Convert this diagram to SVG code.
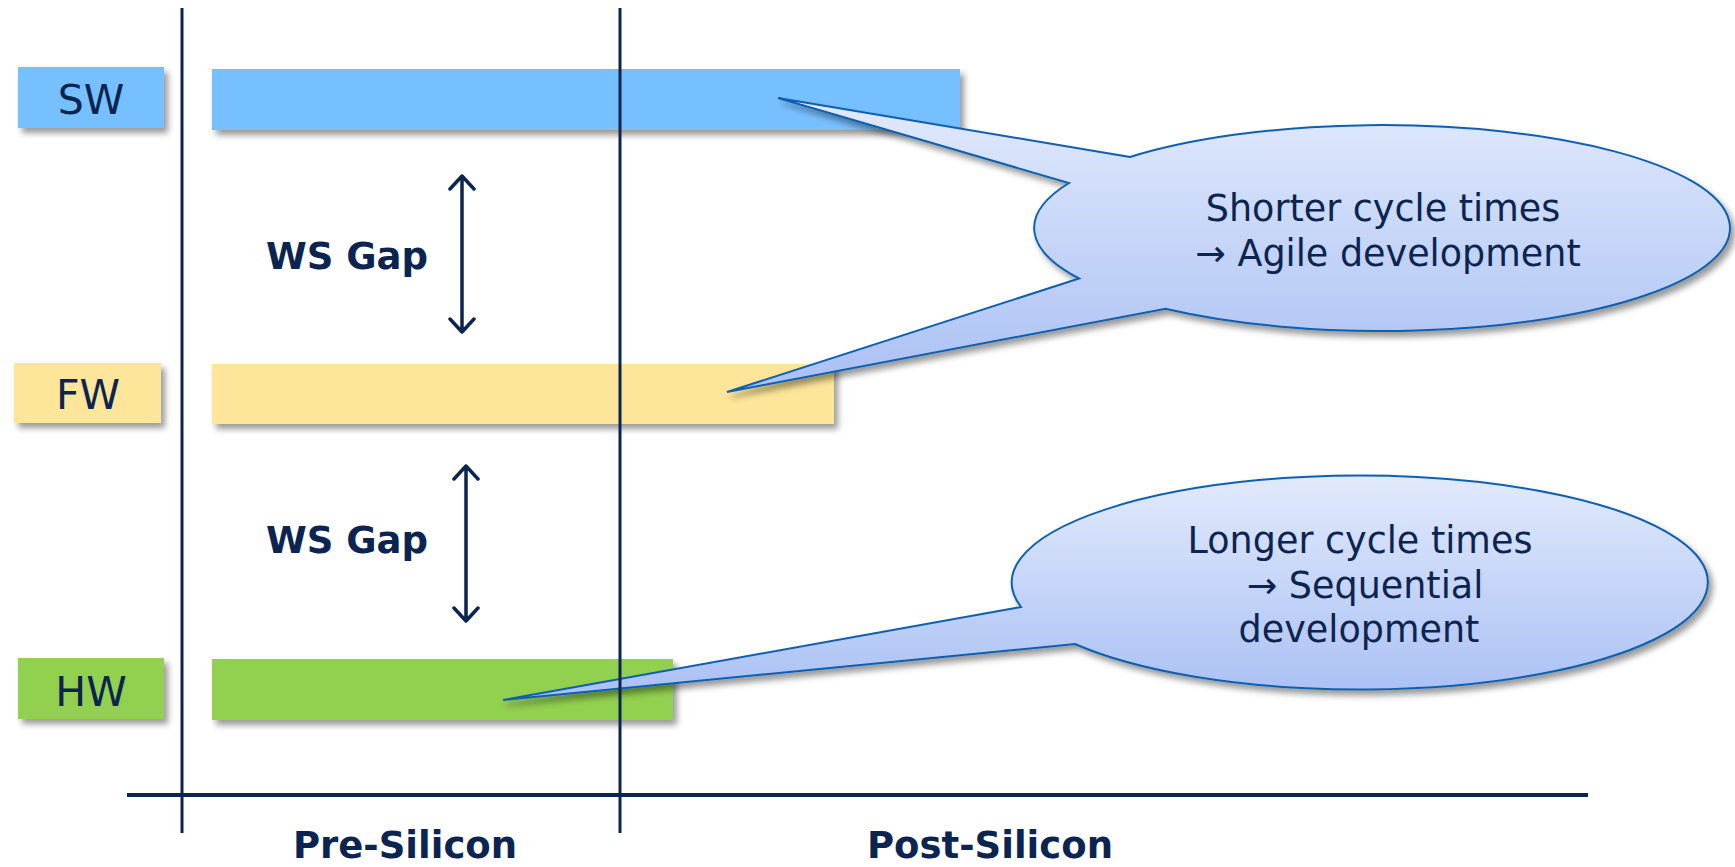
<svg xmlns="http://www.w3.org/2000/svg" width="1735" height="867" viewBox="0 0 1735 867">
<style>
.lbl{font-family:"DejaVu Sans","Verdana",sans-serif;font-size:41px;fill:#0B2450;text-anchor:middle}
.bold{font-family:"DejaVu Sans","Verdana",sans-serif;font-weight:bold;font-size:37px;fill:#0B2450;text-anchor:middle}
.ct{font-family:"DejaVu Sans","Verdana",sans-serif;font-size:36.5px;fill:#0B2450;text-anchor:middle}
.axis{stroke:#0B2450;fill:none}
.arr{stroke:#0B2450;stroke-width:3.5;fill:none;stroke-linecap:round;stroke-linejoin:round}
.callout{fill:url(#cg);stroke:#1060B0;stroke-width:2;filter:url(#sh)}
</style>
<defs>
<filter id="sh" x="-10%" y="-10%" width="130%" height="140%">
<feDropShadow dx="4" dy="5" stdDeviation="3" flood-color="#000" flood-opacity="0.4"/>
</filter>
<linearGradient id="cg" x1="0" y1="0" x2="0" y2="1">
<stop offset="0" stop-color="#E2EAFC"/>
<stop offset="1" stop-color="#A9C0F4"/>
</linearGradient>
</defs>
<g id="sw-label"><rect x="18" y="67" width="146" height="61" fill="#77C0FF" filter="url(#sh)"/><text class="lbl" x="91" y="114">SW</text></g>
<g id="sw-bar"><rect x="212" y="69" width="748" height="61" fill="#77C0FF" filter="url(#sh)"/></g>
<g id="fw-label"><rect x="14" y="363" width="147" height="60" fill="#FDE699" filter="url(#sh)"/><text class="lbl" x="88" y="409">FW</text></g>
<g id="fw-bar"><rect x="212" y="364" width="622" height="60" fill="#FDE699" filter="url(#sh)"/></g>
<g id="hw-label"><rect x="18" y="658" width="146" height="61" fill="#92D050" filter="url(#sh)"/><text class="lbl" x="91" y="706">HW</text></g>
<g id="hw-bar"><rect x="212" y="659" width="461" height="61" fill="#92D050" filter="url(#sh)"/></g>
<g id="gap1"><text class="bold" x="347" y="269">WS Gap</text></g>
<g id="gap2"><text class="bold" x="347" y="553">WS Gap</text></g>
<g id="callout-top">
<path class="callout" d="M1130,157 L778,98 L1069,183 A348,103 0 0 0 1079,278.5 L727,392 L1165.5,308.7 A348,103 0 1 0 1130,157 Z"/>
<text class="ct" x="1383" y="221">Shorter cycle times</text>
<text class="ct" x="1388" y="266">→ Agile development</text>
</g>
<g id="callout-bottom">
<path class="callout" d="M1021,607 L503,700 L1075,644 A348,107 0 1 0 1021,607 Z"/>
<text class="ct" x="1360" y="553">Longer cycle times</text>
<text class="ct" x="1365" y="598">→ Sequential</text>
<text class="ct" x="1359" y="642">development</text>
</g>
<g id="connectors">
<line class="axis" x1="182" y1="8" x2="182" y2="833" stroke-width="3"/>
<line class="axis" x1="620" y1="8" x2="620" y2="833" stroke-width="3"/>
<line class="axis" x1="127" y1="795" x2="1588" y2="795" stroke-width="4"/>
<path class="arr" d="M462,176 V332 M450,189 L462,176 L474,189 M450,319 L462,332 L474,319"/>
<path class="arr" d="M466,466 V621 M454,479 L466,466 L478,479 M454,608 L466,621 L478,608"/>
</g>
<g id="axis-labels">
<text class="bold" x="405" y="858">Pre-Silicon</text>
<text class="bold" x="990" y="858">Post-Silicon</text>
</g>
</svg>
